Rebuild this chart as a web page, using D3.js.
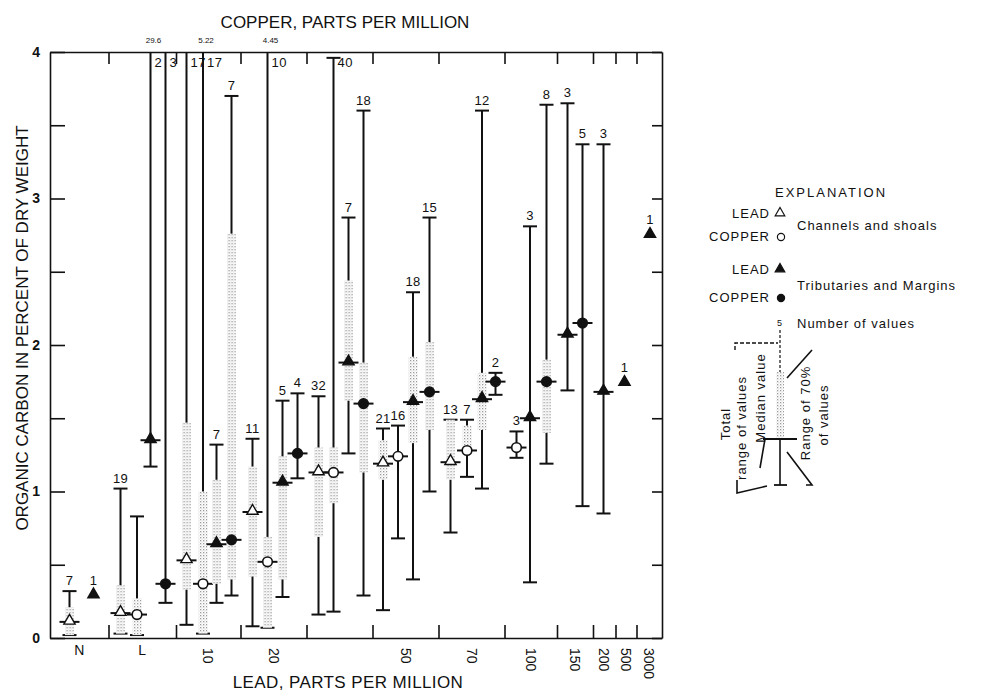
<!DOCTYPE html>
<html>
<head>
<meta charset="utf-8">
<script src="https://cdn.jsdelivr.net/npm/d3@7"></script>
<style>
  body { margin: 0; background: #fff; }
  text { font-family: 'Liberation Sans', Arial, sans-serif; fill: #111; }
</style>
</head>
<body>
<svg id="chart" width="991" height="691"></svg>
<script>
// lead groups along the bottom, edges in column slots
var leadLabels = ['N', 'L', '10', '20', '', '50', '70', '100', '150', '200', '500', '3000'];
var groupEdges = [0, 3.9, 8.4, 12.7, 17.1, 21.5, 25.9, 30.3, 33.8, 36.2, 37.7, 39.1, 40.8];

// one entry per column (slot position on the category axis)
var colPos     = [1.3, 2.9, 4.7, 5.8, 6.7, 7.7, 9.1, 10.2, 11.1, 12.1, 13.5, 14.5, 15.5, 16.5, 17.9, 18.9, 19.9, 20.9,
                  22.2, 23.2, 24.2, 25.3, 26.7, 27.8, 28.8, 29.7, 31.1, 32.0, 33.1, 34.5, 35.5, 36.9, 38.3, 40.0];
var colMetal   = ['lead', 'lead', 'lead', 'copper', 'lead', 'copper', 'lead', 'copper', 'lead', 'copper', 'lead', 'copper',
                  'lead', 'copper', 'lead', 'copper', 'lead', 'copper', 'lead', 'copper', 'lead', 'copper', 'lead', 'copper',
                  'lead', 'copper', 'copper', 'lead', 'copper', 'lead', 'copper', 'lead', 'lead', 'lead'];
var colSetting = ['chan', 'trib', 'chan', 'chan', 'trib', 'trib', 'chan', 'chan', 'trib', 'trib', 'chan', 'chan',
                  'trib', 'trib', 'chan', 'chan', 'trib', 'trib', 'chan', 'chan', 'trib', 'trib', 'chan', 'chan',
                  'trib', 'trib', 'chan', 'trib', 'trib', 'trib', 'trib', 'trib', 'trib', 'trib'];
var colCount   = [7, 1, 19, null, 2, 3, 17, 17, 7, 7, 11, 10, 5, 4, 32, 40, 7, 18,
                  21, 16, 18, 15, 13, 7, 12, 2, 3, 3, 8, 3, 5, 3, 1, 1];
var colMedian  = [0.11, 0.29, 0.17, 0.16, 1.35, 0.37, 0.53, 0.37, 0.64, 0.67, 0.86, 0.52, 1.06, 1.26, 1.13, 1.13, 1.88, 1.60,
                  1.19, 1.24, 1.61, 1.68, 1.20, 1.28, 1.63, 1.75, 1.30, 1.50, 1.75, 2.07, 2.15, 1.68, 1.74, 2.75];
var colMin     = [0.02, null, 0.03, 0.02, 1.17, 0.24, 0.09, 0.03, 0.24, 0.29, 0.08, 0.07, 0.28, 1.09, 0.16, 0.18, 1.26, 0.29,
                  0.19, 0.68, 0.40, 1.00, 0.72, 1.10, 1.02, 1.66, 1.23, 0.38, 1.19, 1.69, 0.90, 0.85, null, null];
// null with a min = runs off the top without a printed value
var colMax     = [0.32, null, 1.02, 0.83, 29.6, null, null, 5.22, 1.32, 3.70, 1.36, 4.45, 1.62, 1.67, 1.65, 3.96, 2.87, 3.60,
                  1.43, 1.45, 2.36, 2.87, 1.49, 1.49, 3.60, 1.81, 1.41, 2.81, 3.64, 3.65, 3.37, 3.37, null, null];
// range of 70 percent of values (stippled)
var colLo      = [0.02, null, 0.03, 0.02, null, null, 0.33, 0.03, 0.37, 0.40, 0.42, 0.07, 0.40, null, 0.69, 0.92, 1.62, 1.13,
                  1.08, null, 1.33, 1.42, 1.08, 1.30, 1.42, null, null, null, 1.40, null, null, null, null, null];
var colHi      = [0.21, null, 0.36, 0.27, null, null, 1.47, 1.00, 1.08, 2.76, 1.17, 0.69, 1.24, null, 1.30, 1.30, 2.44, 1.88,
                  1.35, null, 1.92, 2.02, 1.49, 1.45, 1.81, null, null, null, 1.90, null, null, null, null, null];

var yTicks = [0, 1, 2, 3, 4];
var yMinor = [0.5, 1.5, 2.5, 3.5];

var svg = d3.select('#chart');
var x = d3.scaleLinear().domain([0, 40.8]).range([50, 662]);
var y = d3.scaleLinear().domain([0, 4]).range([638, 52]);

var cols = colPos.map(function(p, i) {
  return {
    pos: p, metal: colMetal[i], setting: colSetting[i], n: colCount[i],
    med: colMedian[i], min: colMin[i], max: colMax[i], lo: colLo[i], hi: colHi[i]
  };
});

function offTop(d) {
  return d.min != null && (d.max == null || d.max > 4);
}
function countAtTop(d) {
  return offTop(d) || d.max > 3.85;
}

// stipple fill
var pat = svg.append('defs').append('pattern')
  .attr('id', 'stipple')
  .attr('width', 3).attr('height', 3)
  .attr('patternUnits', 'userSpaceOnUse');
pat.append('rect').attr('width', 1.3).attr('height', 1.3).attr('fill', '#9a9a9a');
pat.append('rect').attr('x', 1.5).attr('y', 1.5).attr('width', 1).attr('height', 1).attr('fill', '#c4c4c4');

// axes
var axisG = svg.append('g').attr('class', 'axes');
axisG.append('g')
  .attr('transform', 'translate(50,0)')
  .call(d3.axisLeft(y).tickValues(yTicks.concat(yMinor)).tickSize(-15).tickSizeOuter(0).tickFormat(''));
axisG.append('g')
  .attr('transform', 'translate(662,0)')
  .call(d3.axisLeft(y).tickValues(yTicks.concat(yMinor)).tickSize(10).tickSizeOuter(0).tickFormat(''));
axisG.append('g')
  .attr('transform', 'translate(0,638)')
  .call(d3.axisBottom(x).tickValues(groupEdges.slice(1, -1)).tickSize(-13).tickSizeOuter(0).tickFormat(''));
axisG.append('g')
  .attr('transform', 'translate(0,52)')
  .call(d3.axisTop(x).tickValues(groupEdges.slice(1, -1)).tickSize(-12).tickSizeOuter(0).tickFormat(''));
axisG.selectAll('path.domain').attr('stroke', '#111').attr('stroke-width', 1.6);
axisG.selectAll('.tick line').attr('stroke', '#111').attr('stroke-width', 1.6);

svg.append('g').selectAll('text')
  .data(yTicks)
  .enter().append('text')
  .attr('x', 40).attr('y', function(d) { return y(d); })
  .attr('dy', '0.35em')
  .attr('text-anchor', 'end')
  .style('font-size', '14px').style('font-weight', 'bold')
  .text(function(d) { return d; });

// lead tick labels, letters flat, numbers turned
var mids = leadLabels.map(function(l, i) {
  return {label: l, mid: (groupEdges[i] + groupEdges[i + 1]) / 2};
});
svg.append('g').selectAll('text')
  .data(mids.filter(function(d) { return d.label !== ''; }))
  .enter().append('text')
  .style('font-size', '14px')
  .attr('transform', function(d) {
    if (isNaN(+d.label)) {
      return 'translate(' + x(d.mid) + ',655)';
    }
    return 'translate(' + x(d.mid) + ',648) rotate(90)';
  })
  .attr('text-anchor', function(d) { return isNaN(+d.label) ? 'middle' : 'start'; })
  .attr('dy', function(d) { return isNaN(+d.label) ? '0' : '0.35em'; })
  .text(function(d) { return d.label; });

// titles
svg.append('text')
  .attr('x', 345).attr('y', 28)
  .attr('text-anchor', 'middle')
  .style('font-size', '17px')
  .text('COPPER, PARTS PER MILLION');
svg.append('text')
  .attr('x', 348).attr('y', 688)
  .attr('text-anchor', 'middle')
  .style('font-size', '17px')
  .style('letter-spacing', '0.4px')
  .text('LEAD, PARTS PER MILLION');
svg.append('text')
  .attr('transform', 'translate(22,328) rotate(-90)')
  .attr('text-anchor', 'middle')
  .attr('dy', '0.35em')
  .style('font-size', '17px')
  .text('ORGANIC CARBON IN PERCENT OF DRY WEIGHT');

// columns
var colG = svg.append('g').selectAll('g')
  .data(cols)
  .enter().append('g')
  .attr('transform', function(d) { return 'translate(' + x(d.pos) + ',0)'; });

colG.filter(function(d) { return d.min != null; })
  .append('line')
  .attr('y1', function(d) { return y(d.min); })
  .attr('y2', function(d) { return offTop(d) ? y(4) : y(d.max); })
  .attr('stroke', '#111').attr('stroke-width', 2);

colG.filter(function(d) { return d.min != null; })
  .append('line')
  .attr('x1', -7).attr('x2', 7)
  .attr('y1', function(d) { return y(d.min); })
  .attr('y2', function(d) { return y(d.min); })
  .attr('stroke', '#111').attr('stroke-width', 2);

colG.filter(function(d) { return d.min != null && !offTop(d); })
  .append('line')
  .attr('x1', -7).attr('x2', 7)
  .attr('y1', function(d) { return y(d.max); })
  .attr('y2', function(d) { return y(d.max); })
  .attr('stroke', '#111').attr('stroke-width', 2);

var boxes = colG.filter(function(d) { return d.lo != null; });
boxes.append('rect')
  .attr('x', -4.5).attr('width', 9)
  .attr('y', function(d) { return y(d.hi); })
  .attr('height', function(d) { return y(d.lo) - y(d.hi); })
  .attr('fill', '#fff');
boxes.append('rect')
  .attr('x', -4.5).attr('width', 9)
  .attr('y', function(d) { return y(d.hi); })
  .attr('height', function(d) { return y(d.lo) - y(d.hi); })
  .attr('fill', 'url(#stipple)');

// median bar and marker
colG.filter(function(d) { return d.min != null; })
  .append('line')
  .attr('x1', -10).attr('x2', 10)
  .attr('y1', function(d) { return y(d.med); })
  .attr('y2', function(d) { return y(d.med); })
  .attr('stroke', '#111').attr('stroke-width', 2);

var tri = d3.symbol().type(d3.symbolTriangle).size(55);
colG.filter(function(d) { return d.metal === 'lead'; })
  .append('path')
  .attr('d', tri)
  .attr('transform', function(d) { return 'translate(0,' + (y(d.med) - 1) + ')'; })
  .attr('fill', function(d) { return d.setting === 'trib' ? '#111' : '#fff'; })
  .attr('stroke', '#111').attr('stroke-width', 1.4);
colG.filter(function(d) { return d.metal === 'copper'; })
  .append('circle')
  .attr('cy', function(d) { return y(d.med); })
  .attr('r', 4.8)
  .attr('fill', function(d) { return d.setting === 'trib' ? '#111' : '#fff'; })
  .attr('stroke', '#111').attr('stroke-width', 1.6);

// number of values
colG.filter(function(d) { return d.n != null; })
  .append('text')
  .style('font-size', '13px')
  .style('letter-spacing', '0.4px')
  .attr('text-anchor', function(d) { return countAtTop(d) ? 'start' : 'middle'; })
  .attr('x', function(d) { return countAtTop(d) ? 4 : 0; })
  .attr('y', function(d) {
    if (countAtTop(d)) return y(4) + 15;
    if (d.max == null) return y(d.med) - 11;
    return y(d.max) - 6;
  })
  .text(function(d) { return d.n; });

// printed values of maxima off the scale
colG.filter(function(d) { return d.max != null && d.max > 4; })
  .append('text')
  .attr('x', 3).attr('y', 43)
  .attr('text-anchor', 'middle')
  .style('font-size', '8px')
  .text(function(d) { return d.max; });

// explanation
var lg = svg.append('g').style('font-size', '13px').style('letter-spacing', '1px');
lg.append('text').attr('x', 831).attr('y', 197).attr('text-anchor', 'middle')
  .style('letter-spacing', '2px').text('EXPLANATION');

var keyRows = [
  {label: 'LEAD', shape: 'tri', fill: '#fff', y: 213},
  {label: 'COPPER', shape: 'circle', fill: '#fff', y: 236},
  {label: 'LEAD', shape: 'tri', fill: '#111', y: 269},
  {label: 'COPPER', shape: 'circle', fill: '#111', y: 297}
];
keyRows.forEach(function(r) {
  lg.append('text').attr('x', 770).attr('y', r.y).attr('dy', '0.35em')
    .attr('text-anchor', 'end').text(r.label);
  if (r.shape === 'tri') {
    lg.append('path').attr('d', d3.symbol().type(d3.symbolTriangle).size(40))
      .attr('transform', 'translate(780,' + r.y + ')')
      .attr('fill', r.fill).attr('stroke', '#111').attr('stroke-width', 1.2);
  } else {
    lg.append('circle').attr('cx', 781).attr('cy', r.y + 1).attr('r', 3.6)
      .attr('fill', r.fill).attr('stroke', '#111').attr('stroke-width', 1.2);
  }
});
lg.append('text').attr('x', 797).attr('y', 225).attr('dy', '0.35em').text('Channels and shoals');
lg.append('text').attr('x', 797).attr('y', 285).attr('dy', '0.35em').text('Tributaries and Margins');
lg.append('text').attr('x', 797).attr('y', 323).attr('dy', '0.35em').text('Number of values');
lg.append('text').attr('x', 780).attr('y', 326).attr('text-anchor', 'middle')
  .style('font-size', '9px').text('5');

// schematic column
var sk = lg.append('g').attr('stroke', '#111').attr('fill', 'none');
sk.append('line').attr('x1', 780).attr('x2', 780).attr('y1', 330).attr('y2', 372)
  .attr('stroke-width', 1.2).attr('stroke-dasharray', '3,2');
sk.append('rect').attr('x', 776).attr('y', 372).attr('width', 8).attr('height', 66)
  .attr('stroke', 'none').attr('fill', 'url(#stipple)');
sk.append('line').attr('x1', 763).attr('x2', 797).attr('y1', 439).attr('y2', 439).attr('stroke-width', 2);
sk.append('line').attr('x1', 780).attr('x2', 780).attr('y1', 439).attr('y2', 485).attr('stroke-width', 1.6);
sk.append('line').attr('x1', 774).attr('x2', 787).attr('y1', 485).attr('y2', 485).attr('stroke-width', 1.8);
sk.append('polyline').attr('points', '735,350 735,343 778,343')
  .attr('stroke-width', 1.4).attr('stroke-dasharray', '4,2');
sk.append('polyline').attr('points', '737,480 737,493 767,486').attr('stroke-width', 1.6);
sk.append('polyline').attr('points', '771,439 765,439 760,468').attr('stroke-width', 1.6);
sk.append('line').attr('x1', 812).attr('y1', 350).attr('x2', 787).attr('y2', 378).attr('stroke-width', 1.6);
sk.append('polyline').attr('points', '787,452 812,485 806,485').attr('stroke-width', 1.6);

var turned = [
  {t: 'Total', x: 725, y: 424},
  {t: 'range of values', x: 741, y: 428},
  {t: 'Median value', x: 760, y: 398},
  {t: 'Range of 70%', x: 805, y: 413},
  {t: 'of values', x: 823, y: 415}
];
lg.selectAll('text.turned')
  .data(turned)
  .enter().append('text')
  .attr('class', 'turned')
  .attr('transform', function(d) { return 'translate(' + d.x + ',' + d.y + ') rotate(-90)'; })
  .attr('text-anchor', 'middle')
  .attr('dy', '0.35em')
  .text(function(d) { return d.t; });
</script>
</body>
</html>
